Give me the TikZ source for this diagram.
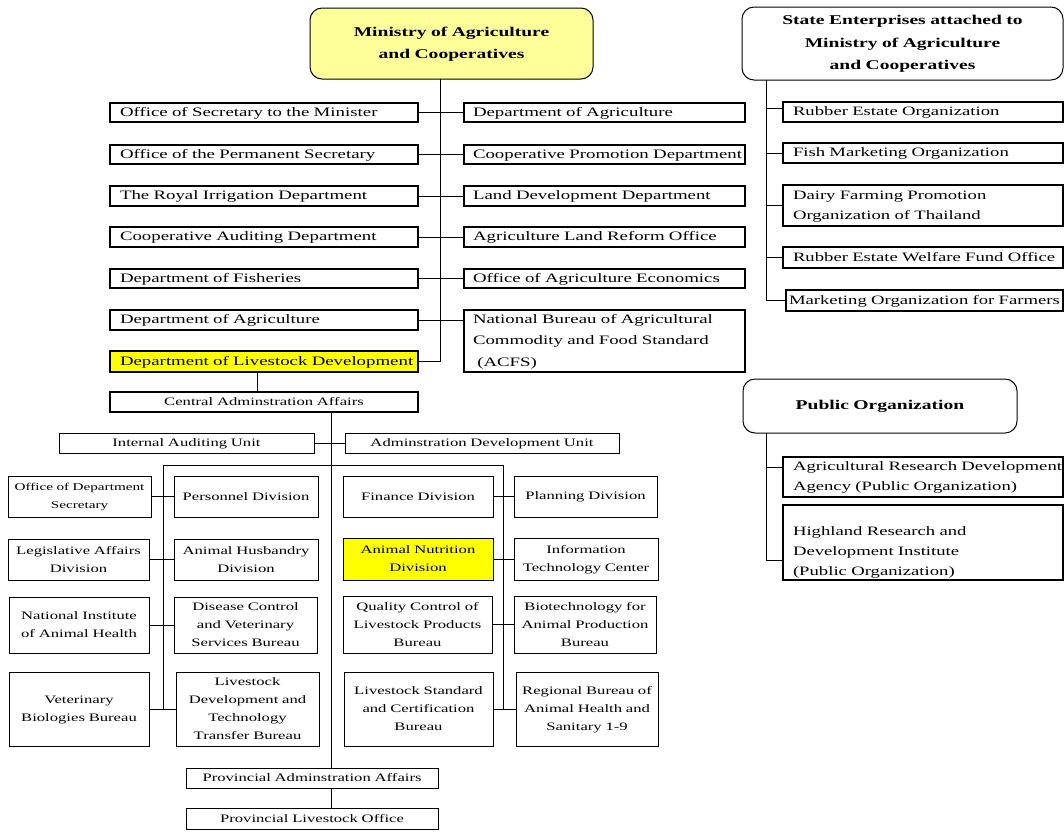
\documentclass[tikz,border=0pt]{standalone}
\usepackage{fontspec}
\setmainfont{Liberation Serif}[FakeStretch=1.46]
\usetikzlibrary{calc}
\definecolor{lyel}{HTML}{FFFF99}
\definecolor{yel}{HTML}{FFFF00}
\newcommand\st{\vrule height .8em depth .14em width 0pt}
\newcommand\lin[1]{\mbox{\st #1}}
\newcommand\ftop{\fontsize{12.9}{21.5}\selectfont}
\newcommand\fsub{\fontsize{11.4}{18}\selectfont}
\newcommand\fsml{\fontsize{10.4}{18}\selectfont}
\newcommand\frt{\fontsize{12.8}{20}\selectfont}
\newcommand\fttl{\fontsize{13.4}{22.5}\selectfont\bfseries}
\newcommand\bx[8][]{%
  \pgfmathsetmacro\bxw{#5-#3}%
  \pgfmathsetmacro\bxh{#6-#4}%
  \pgfmathsetmacro\bxt{#5-#3-2*#7}%
  \pgfmathsetmacro\bxx{(#3+#5)/2}%
  \pgfmathsetmacro\bxy{(#4+#6)/2}%
  \node[minimum width=\bxw pt, minimum height=\bxh pt, text width=\bxt pt, #1] (#2) at (\bxx,\bxy) {#8};%
}
\begin{document}
\begin{tikzpicture}[x=1pt,y=-1pt,
  every node/.style={inner sep=0pt, outer sep=0pt},
  topbox/.style={draw, line width=1.6pt, font=\ftop, align=left},
  subbox/.style={draw, line width=0.9pt, font=\fsub, align=center},
  rtbox/.style={draw, line width=1.6pt, font=\frt, align=left},
  ttlbox/.style={draw, line width=1pt, rounded corners=12pt, font=\fttl, align=center},
  conn/.style={line width=0.9pt}]
\useasboundingbox (0,0) rectangle (1064,831);

% Ministry
\bx[ttlbox, fill=lyel]{min}{310}{8}{593}{79}{2}{\lin{Ministry of Agriculture}\\\lin{and Cooperatives}}

% left column
\bx[topbox]{L1}{110}{103}{418}{122}{10}{\lin{Office of Secretary to the Minister}}
\bx[topbox]{L2}{110}{145}{418}{164}{10}{\lin{Office of the Permanent Secretary}}
\bx[topbox]{L3}{110}{186}{418}{206}{10}{\lin{The Royal Irrigation Department}}
\bx[topbox]{L4}{110}{227}{418}{247}{10}{\lin{Cooperative Auditing Department}}
\bx[topbox]{L5}{110}{269}{418}{288}{10}{\lin{Department of Fisheries}}
\bx[topbox]{L6}{110}{310}{418}{330}{10}{\lin{Department of Agriculture}}
\bx[topbox, fill=yel]{L7}{110}{351}{418}{372}{10}{\lin{Department of Livestock Development}}

% right column
\bx[topbox]{R1}{464}{103}{745}{122}{9}{\lin{Department of Agriculture}}
\bx[topbox]{R2}{464}{145}{745}{164}{9}{\lin{Cooperative Promotion Department}}
\bx[topbox]{R3}{464}{186}{745}{206}{9}{\lin{Land Development Department}}
\bx[topbox]{R4}{464}{227}{745}{247}{9}{\lin{Agriculture Land Reform Office}}
\bx[topbox]{R5}{464}{269}{745}{288}{9}{\lin{Office of Agriculture Economics}}
\bx[topbox]{R6}{464}{310}{745}{372}{9}{\lin{National Bureau of Agricultural}\\\lin{Commodity and Food Standard}\\\lin{\ (ACFS)}}

% department level
\bx[subbox, line width=1.6pt]{CA}{110}{392}{418}{412}{2}{\lin{Central Adminstration Affairs}}
\bx[subbox]{IAU}{59}{433}{314}{453}{2}{\lin{Internal Auditing Unit}}
\bx[subbox]{ADU}{345}{433}{619}{453}{2}{\lin{Adminstration Development Unit}}

\bx[subbox, font=\fsml]{ODS}{8}{476}{151}{517}{2}{\lin{Office of Department}\\\lin{Secretary}}
\bx[subbox]{PD}{174}{476}{318}{517}{2}{\lin{Personnel Division}}
\bx[subbox]{LAD}{8}{539}{149}{580}{2}{\lin{Legislative Affairs}\\\lin{Division}}
\bx[subbox]{AHD}{174}{539}{318}{580}{2}{\lin{Animal Husbandry}\\\lin{Division}}
\bx[subbox]{NIAH}{9}{597}{149}{653}{2}{\lin{National Institute}\\\lin{of Animal Health}}
\bx[subbox]{DCVS}{174}{597}{317}{653}{2}{\lin{Disease Control}\\\lin{and Veterinary}\\\lin{Services Bureau}}
\bx[subbox]{VBB}{9}{672}{149}{746}{2}{\lin{Veterinary}\\\lin{Biologies Bureau}}
\bx[subbox]{LDTT}{176}{672}{319}{746}{2}{\lin{Livestock}\\\lin{Development and}\\\lin{Technology}\\\lin{Transfer Bureau}}

\bx[subbox]{FD}{343}{476}{493}{517}{2}{\lin{Finance Division}}
\bx[subbox]{PLD}{514}{476}{657}{517}{2}{\lin{Planning Division}}
\bx[subbox, fill=yel]{AND}{343}{538}{493}{580}{2}{\lin{Animal Nutrition}\\\lin{Division}}
\bx[subbox]{ITC}{514}{538}{658}{580}{2}{\lin{Information}\\\lin{Technology Center}}
\bx[subbox]{QC}{343}{596}{492}{653}{2}{\lin{Quality Control of}\\\lin{Livestock Products}\\\lin{Bureau}}
\bx[subbox]{BAP}{514}{596}{656}{653}{2}{\lin{Biotechnology for}\\\lin{Animal Production}\\\lin{Bureau}}
\bx[subbox]{LSC}{344}{672}{493}{746}{2}{\lin{Livestock Standard}\\\lin{and Certification}\\\lin{Bureau}}
\bx[subbox]{RBAH}{516}{672}{658}{746}{2}{\lin{Regional Bureau of}\\\lin{Animal Health and}\\\lin{Sanitary 1-9}}

\bx[subbox]{PAA}{186}{768}{438}{788}{2}{\lin{Provincial Adminstration Affairs}}
\bx[subbox]{PLO}{186}{808}{438}{829}{2}{\lin{Provincial Livestock Office}}

% state enterprises
\bx[ttlbox]{SE}{742}{7}{1063}{80}{2}{\lin{State Enterprises attached to}\\\lin{Ministry of Agriculture}\\\lin{and Cooperatives}}
\bx[rtbox]{RUB}{783}{102}{1063}{122}{10}{\lin{Rubber Estate Organization}}
\bx[rtbox]{FMO}{783}{143}{1063}{163}{10}{\lin{Fish Marketing Organization}}
\bx[rtbox]{DFP}{783}{185}{1063}{226}{10}{\lin{Dairy Farming Promotion}\\\lin{Organization of Thailand}}
\bx[rtbox]{RWF}{783}{247}{1063}{268}{10}{\lin{Rubber Estate Welfare Fund Office}}
\bx[rtbox]{MOF}{786}{290}{1063}{311}{3}{\lin{Marketing Organization for Farmers}}

% public organization
\bx[ttlbox]{PO}{743}{379}{1017}{433}{2}{\lin{Public Organization}}
\bx[rtbox]{ARDA}{783}{457}{1063}{497}{10}{\lin{Agricultural Research Development}\\\lin{Agency (Public Organization)}}
\bx[rtbox]{HRDI}{783}{505}{1063}{580}{10}{\mbox{\vrule height 28pt width 0pt\st Highland Research and}\\\lin{Development Institute}\\\lin{(Public Organization)}}

% coordinates for trunks
\coordinate (trk) at (440,0);
\coordinate (k1) at (257,0);
\coordinate (k2) at (331,0);
\coordinate (bl) at (163,465);
\coordinate (br) at (503,465);
\coordinate (s1) at (766,0);

% ministry connectors
\draw[conn] (min.south -| trk) -- (L7.east -| trk);
\foreach \i in {1,...,5} \draw[conn] (L\i.east) -- (R\i.west);
\draw[conn] (L6.east) -- (L6.east -| R6.west);
\draw[conn] (L7.east) -- (L7.east -| trk);

% department connectors
\draw[conn] (L7.south -| k1) -- (CA.north -| k1);
\draw[conn] (CA.south -| k2) -- (PAA.north -| k2);
\draw[conn] (PAA.south -| k2) -- (PLO.north -| k2);
\draw[conn] (IAU.east) -- (ADU.west);
\draw[conn] (VBB.east -| bl) -- (bl) -- (br) -- (RBAH.west -| br);
\foreach \a/\b in {ODS/PD,LAD/AHD,NIAH/DCVS,VBB/LDTT,FD/PLD,AND/ITC,QC/BAP,LSC/RBAH}
  \draw[conn] (\a.east) -- (\a.east -| \b.west);

% right side connectors
\draw[conn] (SE.south -| s1) -- (MOF.west -| s1);
\draw[conn] (s1 |- 0,108) -- (RUB.west |- 0,108);
\foreach \n in {FMO,DFP,RWF,MOF} \draw[conn] (\n.west -| s1) -- (\n.west);
\draw[conn] (PO.south -| s1) -- (s1 |- 0,560) -- (HRDI.west |- 0,560);
\draw[conn] (s1 |- 0,467) -- (ARDA.west |- 0,467);
\end{tikzpicture}
\end{document}
